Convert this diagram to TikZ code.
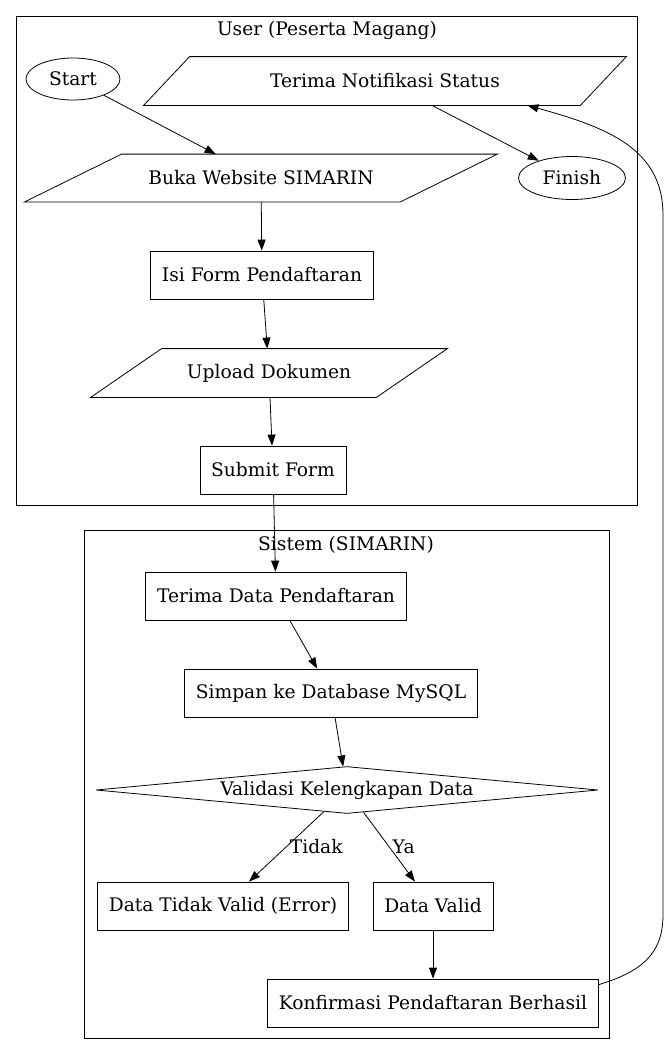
\documentclass[tikz,border=0pt]{standalone}
\usepackage{fontspec}
\setmainfont{DejaVu Serif}
\usetikzlibrary{arrows.meta,shapes.geometric}

\tikzset{
  base/.style={draw, line width=0.8pt, font=\fontsize{18.67}{22}\selectfont, inner sep=4pt},
  proc/.style={base, rectangle, minimum height=48pt},
  io/.style={base, draw=none, rectangle, minimum height=48pt},
  term/.style={base, ellipse},
  decide/.style={base, diamond, inner sep=0pt, shape aspect=11, minimum height=47pt},
  lane/.style={draw, line width=0.8pt},
  lanetitle/.style={font=\fontsize{18.67}{22}\selectfont, inner sep=0pt},
  flow/.style={->, >={Triangle[length=11pt,width=8pt]}, line width=0.8pt},
  answer/.style={font=\fontsize{18.67}{22}\selectfont, inner sep=3pt}
}
% parallelogram outline round an io node
\newcommand{\ioframe}[2]{%
  \draw[line width=0.8pt] ([xshift=#2]#1.north west) -- ([xshift=#2]#1.north east)
    -- ([xshift=-#2]#1.south east) -- ([xshift=-#2]#1.south west) -- cycle;}

\begin{document}
\begin{tikzpicture}[x=1pt, y=-1pt]
            \useasboundingbox (0,0) rectangle (669,1055);

            % lanes
            \draw[lane] (16,16) rectangle (637,505);
            \node[lanetitle] (usertitle) at (327,30) {User (Peserta Magang)};
            \draw[lane] (84,530) rectangle (609,1038);
            \node[lanetitle] (systitle) at (346,545) {Sistem (SIMARIN)};

            % user side
            \node[term, minimum width=94pt, minimum height=42pt] (start) at (73,79) {Start};
            \node[io, minimum width=436pt] (notif) at (385,81) {Terima Notifikasi Status};
            \ioframe{notif}{23pt}
            \node[io, minimum width=375pt, minimum height=47pt] (open) at (261,178) {Buka Website SIMARIN};
            \ioframe{open}{48.5pt}
            \node[term, minimum width=107pt, minimum height=43pt] (finish) at (572,178) {Finish};
            \node[proc, minimum width=223pt] (fill) at (262,275) {Isi Form Pendaftaran};
            \node[io, minimum width=285pt] (upload) at (269,373) {Upload Dokumen};
            \ioframe{upload}{35.5pt}
            \node[proc, minimum width=146pt] (submit) at (273,470) {Submit Form};

            % system side
            \node[proc, minimum width=261pt] (receive) at (276,596) {Terima Data Pendaftaran};
            \node[proc, minimum width=293pt] (store) at (331,693) {Simpan ke Database MySQL};
            \node[decide, minimum width=502pt] (check) at (347,790) {Validasi Kelengkapan Data};
            \node[proc, minimum width=251pt] (invalid) at (223,906) {Data Tidak Valid (Error)};
            \node[proc, minimum width=120pt] (valid) at (433,906) {Data Valid};
            \node[proc, minimum width=331pt] (confirm) at (433,1003) {Konfirmasi Pendaftaran Berhasil};

            \path[flow] (start) edge (open)
                  (notif) edge (finish)
                  (open) edge (fill)
                  (fill) edge (upload)
                  (upload) edge (submit)
                  (submit) edge (receive)
                  (receive) edge (store)
                  (store) edge (check)
                  (check) edge node[answer, right, pos=0.5] {Tidak} (invalid)
                  (check) edge node[answer, right, pos=0.5] {Ya} (valid)
                  (valid) edge (confirm);

            \draw[flow] ([yshift=-6pt]confirm.north east) .. controls (640,972) and (663,955) .. (663,915)
                  -- (663,215) .. controls (663,150) and (610,128) .. ([xshift=-76pt]notif.south east);
        \end{tikzpicture}
\end{document}
